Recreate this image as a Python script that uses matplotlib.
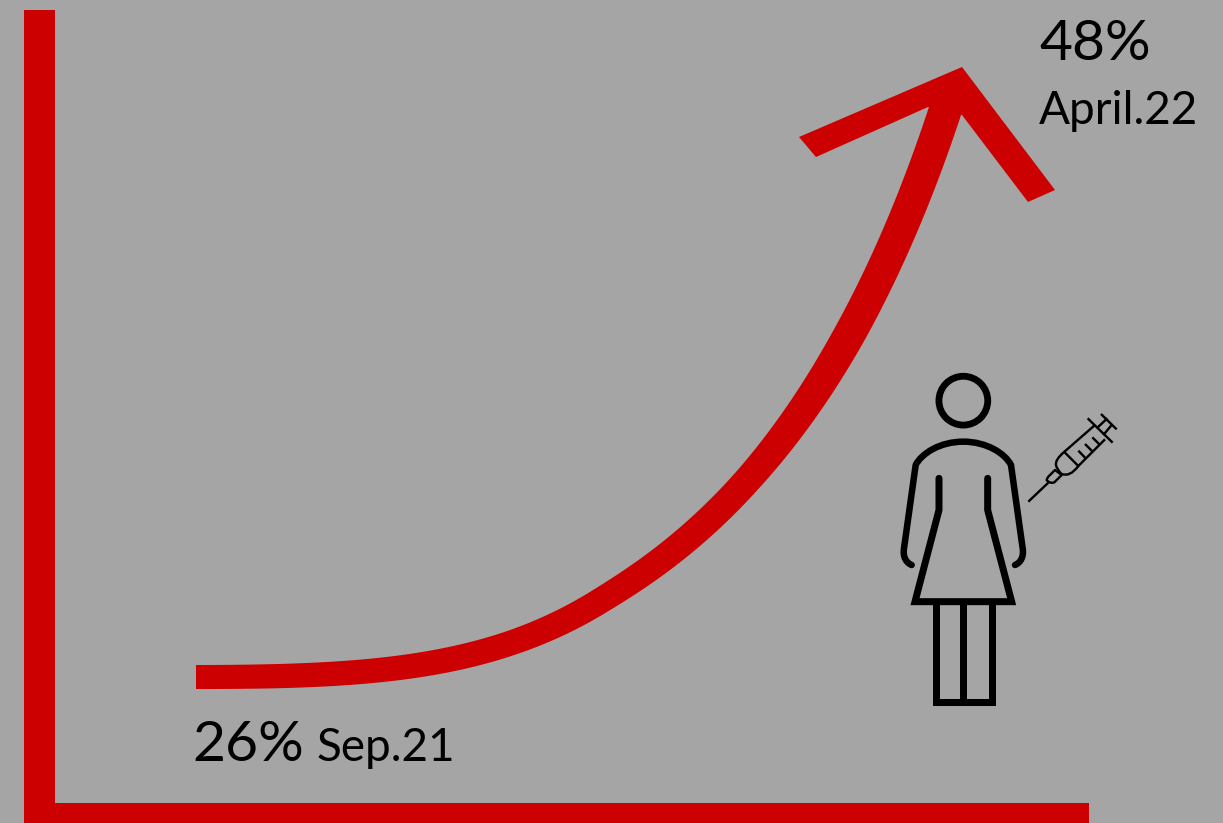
import numpy as np
import matplotlib
matplotlib.use('Agg')
import matplotlib.pyplot as plt
from matplotlib.path import Path
from matplotlib.patches import PathPatch, Circle


RED  = '#CC0000'
GREY = '#A5A5A5'
M, L, Q, C = Path.MOVETO, Path.LINETO, Path.CURVE3, Path.CURVE4

# rising curve in image pixels: two cubic pieces, and thickness against x
low_x  = [196, 370, 490, 600]
low_y  = [677, 677, 669, 601]
high_x = [600, 680, 833, 945]
high_y = [601, 552, 451, 111]
width_x = [196, 380, 513, 600, 680, 747, 797, 847, 945]
width_w = [24, 24.5, 25, 26, 27, 28, 30, 32, 33]

# arrow head outline
head_x = [799, 962, 1055, 1028, 962, 928, 816]
head_y = [137,  67,  190,  202, 115, 107, 157]

# axis bars
yaxis_x = [24, 55, 55, 24]
yaxis_y = [10, 10, 823, 823]
xaxis_x = [24, 1089, 1089, 24]
xaxis_y = [803, 803, 823, 823]

# woman icon, in 1/3 pixel units from the icon corner
body_origin = (880, 350)
arms = [(95,645),(78,638),(68,620),(72,595),(107,345),(125,310),(180,275),(250,275),
        (320,275),(375,310),(393,345),(428,595),(432,620),(422,638),(405,645)]
arms_codes = [M,C,C,C,L,C,C,C,C,C,C,L,C,C,C]
dress = [(177,385),(177,480),(105,755),(395,755),(323,480),(323,385)]
legs = [(167,755),(167,1057),(335,1057),(335,755)]
leg_gap = [(250,755),(250,1057)]

# syringe, in 1/3 pixel units from its own corner
syringe_origin = (1020, 400)
barrel = [(225,75),(130,158),(105,180),(108,195),(110,208),(125,222),(150,232),(175,198),(255,118)]
barrel_codes = [M,L,Q,Q,Q,Q,Q,Q,L]
hub = [(83,232),(105,210),(125,225),(103,247),(90,252),(80,240),(83,232)]
hub_codes = [M,L,L,L,Q,Q,L]
syringe_lines = [
	[(25,305),(85,248)],
	[(203,55),(278,128)],
	[(243,42),(290,88)],
	[(230,85),(262,55)],
	[(250,105),(275,75)],
	[(132,155),(177,200)],
	[(175,152),(197,175)],
	[(195,132),(218,155)],
	[(217,112),(240,135)],
]


def to_px(pts, origin):
	pts = np.array(pts, dtype=float)
	return np.column_stack([pts[:,0]/3 + origin[0], pts[:,1]/3 + origin[1]])


def cubic(xs, ys, t_end=1.0, n=120):
	p = np.column_stack([xs, ys]).astype(float)
	t = np.linspace(0, t_end, n)[:,None]
	return (1-t)**3*p[0] + 3*(1-t)**2*t*p[1] + 3*(1-t)*t**2*p[2] + t**3*p[3]


def ribbon(line, wx, ww):
	# offset a centre line to both sides by half its width
	w = np.interp(line[:,0], wx, ww)
	tan = np.gradient(line, axis=0)
	tan /= np.linalg.norm(tan, axis=1, keepdims=True)
	nrm = np.column_stack([-tan[:,1], tan[:,0]])
	return np.vstack([line + nrm*w[:,None]/2, (line - nrm*w[:,None]/2)[::-1]])


plt.rcParams['font.family'] = ['Lato', 'DejaVu Sans']
fig = plt.figure(figsize=(12.23,8.23), dpi=100, facecolor=GREY)
ax = fig.add_axes([0,0,1,1])
ax.set_xlim(0,1223)
ax.set_ylim(823,0)
ax.axis('off')
px = 72/100

ax.fill(yaxis_x, yaxis_y, color=RED, lw=0)
ax.fill(xaxis_x, xaxis_y, color=RED, lw=0)

# the top piece runs a little past its end so it closes under the head
centre = np.vstack([cubic(low_x, low_y)[:-1], cubic(high_x, high_y, t_end=1.012)])
band = ribbon(centre, width_x, width_w)
ax.fill(band[:,0], band[:,1], color=RED, lw=0)
ax.fill(head_x, head_y, color=RED, lw=0)

# woman
ax.add_patch(Circle((body_origin[0]+250/3, body_origin[1]+152/3), 24.4, fill=False, ec='k', lw=6.8*px))
ax.add_patch(PathPatch(Path(to_px(arms, body_origin), arms_codes), fill=False, ec='k', lw=6.5*px,
	capstyle='round', joinstyle='round'))
for pts,cap in [(dress,'round'), (legs,'butt'), (leg_gap,'butt')]:
	xy = to_px(pts, body_origin)
	ax.plot(xy[:,0], xy[:,1], color='k', lw=7*px, solid_capstyle=cap, solid_joinstyle='miter')

# syringe
for pts,codes in [(barrel,barrel_codes), (hub,hub_codes)]:
	ax.add_patch(PathPatch(Path(to_px(pts, syringe_origin), codes), fill=False, ec='k', lw=2.4*px,
		capstyle='butt', joinstyle='round'))
for pts in syringe_lines:
	xy = to_px(pts, syringe_origin)
	ax.plot(xy[:,0], xy[:,1], color='k', lw=2.4*px, solid_capstyle='butt')

ax.text(1039, 60, '48%', fontsize=41, va='baseline', color='k')
ax.text(1039, 124, 'April.22', fontsize=33, va='baseline', color='k')
ax.text(192, 761, '26%', fontsize=41, va='baseline', color='k')
ax.text(317, 761, 'Sep.21', fontsize=33, va='baseline', color='k')

fig.savefig('out.png', dpi=100, facecolor=GREY)
